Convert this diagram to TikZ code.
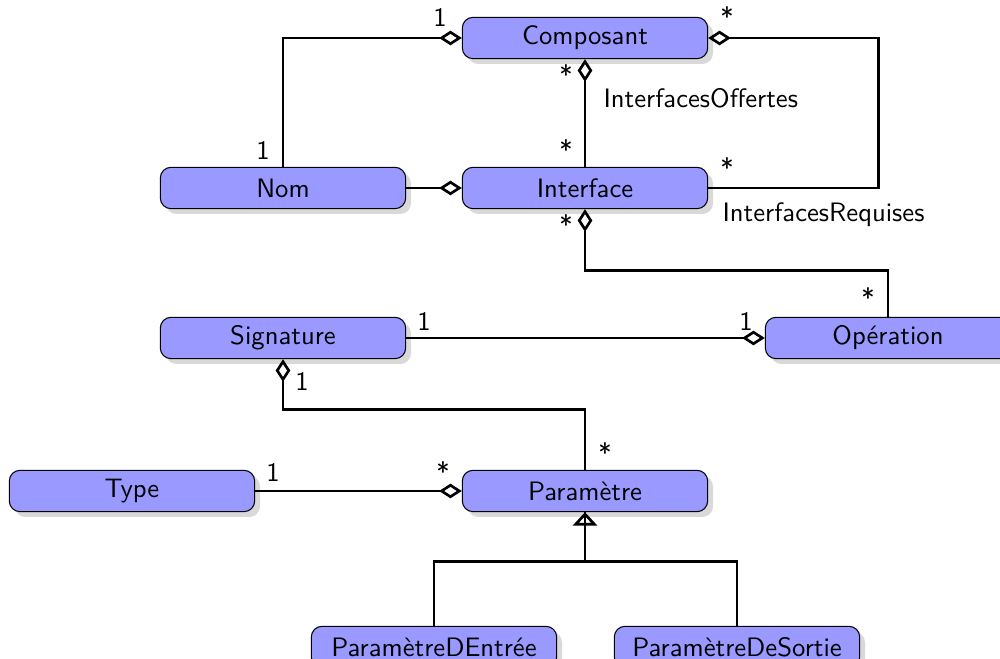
\documentclass[tikz,border=0pt]{standalone}
\usetikzlibrary{arrows.meta,shadows}
\definecolor{classblue}{RGB}{153,153,255}
\tikzset{
  classe/.style={draw, rounded corners=4pt, fill=classblue,
    drop shadow={opacity=0.3, shadow xshift=2pt, shadow yshift=-2pt},
    minimum width=92pt, minimum height=15.5pt, inner sep=1pt, font=\sffamily},
  lien/.style={line width=1pt},
  agg/.style={lien, -{Diamond[open,length=8.5pt,width=5.5pt]}},
  herit/.style={lien, -{Triangle[open,length=5pt,width=9pt]}},
  mult/.style={font=\sffamily, anchor=base, inner sep=0pt},
  role/.style={font=\sffamily, anchor=base west, inner sep=0pt}
}
\begin{document}
\begin{tikzpicture}[x=0.375pt,y=0.375pt]
    \useasboundingbox (0,0) rectangle (1000,659);
    % classes
    \node[classe] (composant) at (585,621) {Composant};
    \node[classe] (nom) at (283,471) {Nom};
    \node[classe] (interface) at (585,471) {Interface};
    \node[classe] (signature) at (283,321) {Signature};
    \node[classe] (operation) at (888,321) {Opération};
    \node[classe] (type) at (132,168) {Type};
    \node[classe] (parametre) at (585,168) {Paramètre};
    \node[classe] (entree) at (434,12) {ParamètreDEntrée};
    \node[classe] (sortie) at (737,12) {ParamètreDeSortie};
    % liens
    \draw[agg] (nom.north) |- (composant.west);
    \draw[agg] (interface.north) -- (composant.south);
    \draw[agg] (interface.east) -- ++(170,0) |- (composant.east);
    \draw[agg] (nom.east) -- (interface.west);
    \draw[agg] (operation.north) -- ++(0,46) -| (interface.south);
    \draw[agg] (signature.east) -- (operation.west);
    \draw[agg] (parametre.north) -- ++(0,60) -| (signature.south);
    \draw[agg] (type.east) -- (parametre.west);
    \draw[herit] (entree.north) -- ++(0,64) -| (parametre.south);
    \draw[lien] (sortie.north) -- ++(0,64) -| (parametre.south);
    % multiplicites
    \node[mult] (m1) at (440,632) {1};
    \node[mult] (m2) at (263,499) {1};
    \node[mult] (m3) at (727,632) {*};
    \node[mult] (m4) at (566,574) {*};
    \node[mult] (m5) at (566,499) {*};
    \node[mult] (m6) at (727,481) {*};
    \node[mult] (m7) at (566,424) {*};
    \node[mult] (m8) at (868,351) {*};
    \node[mult] (m9) at (424,328) {1};
    \node[mult] (m10) at (746,328) {1};
    \node[mult] (m11) at (302,268) {1};
    \node[mult] (m12) at (605,196) {*};
    \node[mult] (m13) at (273,177) {1};
    \node[mult] (m14) at (443,177) {*};
    % roles
    \node[role] (offertes) at (603,551) {InterfacesOffertes};
    \node[role] (requises) at (722,437) {InterfacesRequises};
\end{tikzpicture}
\end{document}
